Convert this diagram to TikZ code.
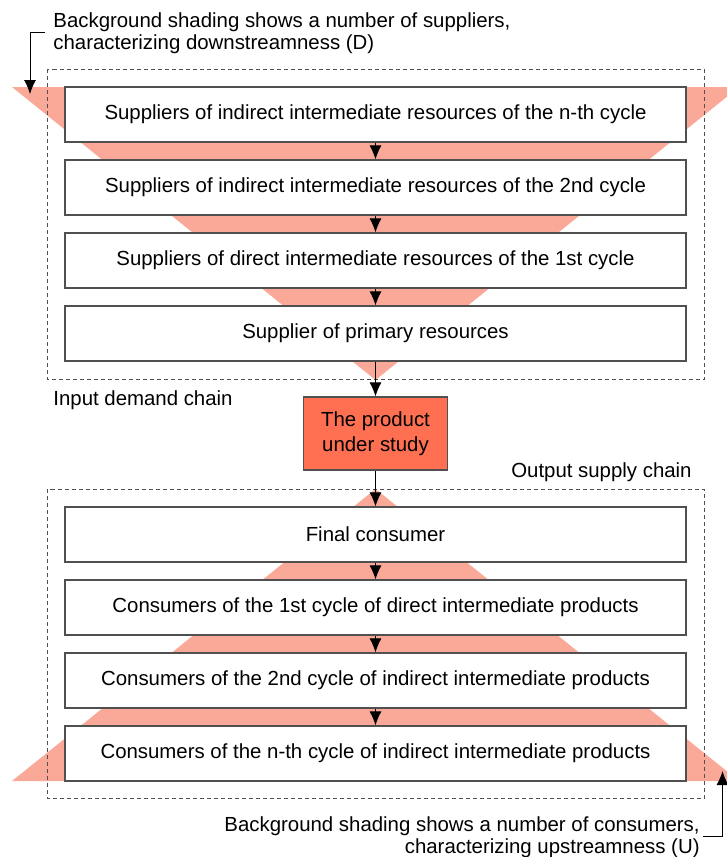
\documentclass[tikz,border=0pt]{standalone}
\usepackage{fontspec}
\setmainfont{Liberation Sans}
\usetikzlibrary{arrows.meta}
\definecolor{shadepink}{RGB}{250,168,152}
\definecolor{product}{RGB}{255,112,82}
\definecolor{rim}{RGB}{80,80,80}

\begin{document}
\begin{tikzpicture}[x=0.5pt,y=-0.5pt]
\tikzstyle{chainbox}=[rectangle,draw=rim,line width=0.6pt,fill=white,minimum width=310.5pt,minimum height=27.5pt,inner sep=0pt,font=\fontsize{10.2}{12}\selectfont]
\tikzstyle{frame}=[draw=rim,dash pattern=on 2pt off 1.5pt,line width=0.5pt]
\tikzstyle{flow}=[->,line width=0.5pt,>={Latex[length=7pt,width=6pt]}]
\tikzstyle{note}=[font=\fontsize{10.2}{11}\selectfont]

\useasboundingbox (0,0) rectangle (727,857);

% background shading
\fill[shadepink] (12,87) -- (739,87) -- (375.5,380) -- cycle;
\fill[shadepink] (375.5,489) -- (739,781) -- (12,781) -- cycle;

\draw[frame] (47.5,69) rectangle (704,379.5);
\draw[frame] (47.5,489) rectangle (704,798.5);

\node [chainbox] (S1) at (375.5,114.5) {Suppliers of indirect intermediate resources of the n-th cycle};
\node [chainbox] (S2) at (375.5,187.5) {Suppliers of indirect intermediate resources of the 2nd cycle};
\node [chainbox] (S3) at (375.5,260.5) {Suppliers of direct intermediate resources of the 1st cycle};
\node [chainbox] (S4) at (375.5,333.5) {Supplier of primary resources};

\node [chainbox,fill=product,minimum width=72pt,minimum height=36.5pt,align=center,font=\fontsize{10.2}{12.5}\selectfont] (P) at (375.5,433.5) {The product\\under study};

\node [chainbox] (C1) at (375.5,534.5) {Final consumer};
\node [chainbox] (C2) at (375.5,607.5) {Consumers of the 1st cycle of direct intermediate products};
\node [chainbox] (C3) at (375.5,680.5) {Consumers of the 2nd cycle of indirect intermediate products};
\node [chainbox] (C4) at (375.5,753.5) {Consumers of the n-th cycle of indirect intermediate products};

\draw[flow] (S1) -- (S2);
\draw[flow] (S2) -- (S3);
\draw[flow] (S3) -- (S4);
\draw[flow] (S4) -- (P);
\draw[flow] (P) -- (C1);
\draw[flow] (C1) -- (C2);
\draw[flow] (C2) -- (C3);
\draw[flow] (C3) -- (C4);

\node [note,anchor=base west,inner sep=0pt] (IN) at (53,405) {Input demand chain};
\node [note,anchor=base east,inner sep=0pt] (OUT) at (692,477) {Output supply chain};

\node [note,align=left,anchor=base west,inner xsep=4pt,inner ysep=0pt] (D) at (45,49) {Background shading shows a number of suppliers,\\characterizing downstreamness (D)};
\node [note,align=right,anchor=base east,inner xsep=1.5pt,inner ysep=0pt] (U) at (703,853) {Background shading shows a number of consumers,\\characterizing upstreamness (U)};
\coordinate (Dtip) at (30,94);
\coordinate (Utip) at (722.5,771);

\draw[flow] (D.west) -| (Dtip);
\draw[flow] (U.east) -| (Utip);

\end{tikzpicture}
\end{document}
